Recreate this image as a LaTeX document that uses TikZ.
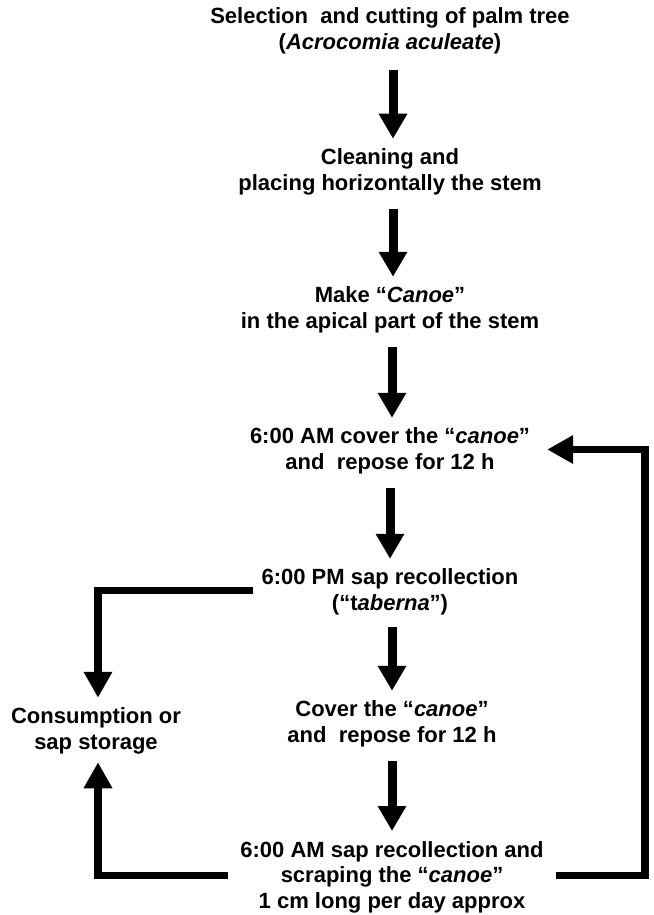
\documentclass[tikz,border=0pt]{standalone}
\usepackage{fontspec}
\setmainfont{Liberation Sans}
\usetikzlibrary{arrows.meta,calc}
\begin{document}
\begin{tikzpicture}[x=1pt,y=-1pt,
  txt/.style={align=center,inner sep=0pt,font=\fontsize{22}{25.5}\selectfont\bfseries},
  arr/.style={line width=9pt,-{Triangle[length=25pt,width=27pt]}},
  loop/.style={line width=7.5pt,line join=miter,-{Triangle[length=26pt,width=27pt]}}]
\useasboundingbox[fill=white] (0,0) rectangle (653,915);
\node[txt] (n1) at (390,31) {Selection\ \ and cutting of palm tree\\(\textit{Acrocomia aculeate})};
\node[txt] (n2) at (390,172) {Cleaning and\\placing horizontally the stem};
\node[txt] (n3) at (390,310) {Make “\textit{Canoe}”\\in the apical part of the stem};
\node[txt] (n4) at (390,451) {6:00 AM cover the “\textit{canoe}”\\and\ \ repose for 12 h};
\node[txt] (n5) at (390,592) {6:00 PM sap recollection\\(“t\textit{aberna}”)};
\node[txt] (n6) at (392,724) {Cover the “\textit{canoe}”\\and\ \ repose for 12 h};
\node[txt] (n7) at (392,877) {6:00 AM sap recollection and\\scraping the “\textit{canoe}”\\1 cm long per day approx};
\node[txt] (side) at (96,731) {Consumption or\\sap storage};
\coordinate (rc) at ([yshift=1.5pt]n4.east -| 645,0);
\draw[arr,shorten <=16pt,shorten >=10pt] (n1.south -| 393,0) -- (n2.north -| 393,0);
\draw[arr,shorten <=14pt,shorten >=10pt] (n2.south -| 393,0) -- (n3.north -| 393,0);
\draw[arr,shorten <=14pt,shorten >=10pt] (n3.south -| 392,0) -- (n4.north -| 392,0);
\draw[arr,shorten <=14pt,shorten >=10pt] (n4.south -| 390,0) -- (n5.north -| 390,0);
\draw[arr,shorten <=12pt,shorten >=10pt] (n5.south -| 392,0) -- (n6.north -| 392,0);
\draw[arr,shorten <=14pt,shorten >=10pt] (n6.south -| 392,0) -- (n7.north -| 392,0);
\draw[loop,shorten >=10pt] ([xshift=-8pt,yshift=1.5pt]n5.west) -| (side.north -| 98,0);
\draw[loop,shorten >=8pt] ([xshift=-12pt,yshift=1.5pt]n7.west) -| (side.south -| 98,0);
\draw[loop] ([xshift=12pt,yshift=1.5pt]n7.east) -| (rc) -- ([xshift=17pt,yshift=1.5pt]n4.east);
\end{tikzpicture}
\end{document}
